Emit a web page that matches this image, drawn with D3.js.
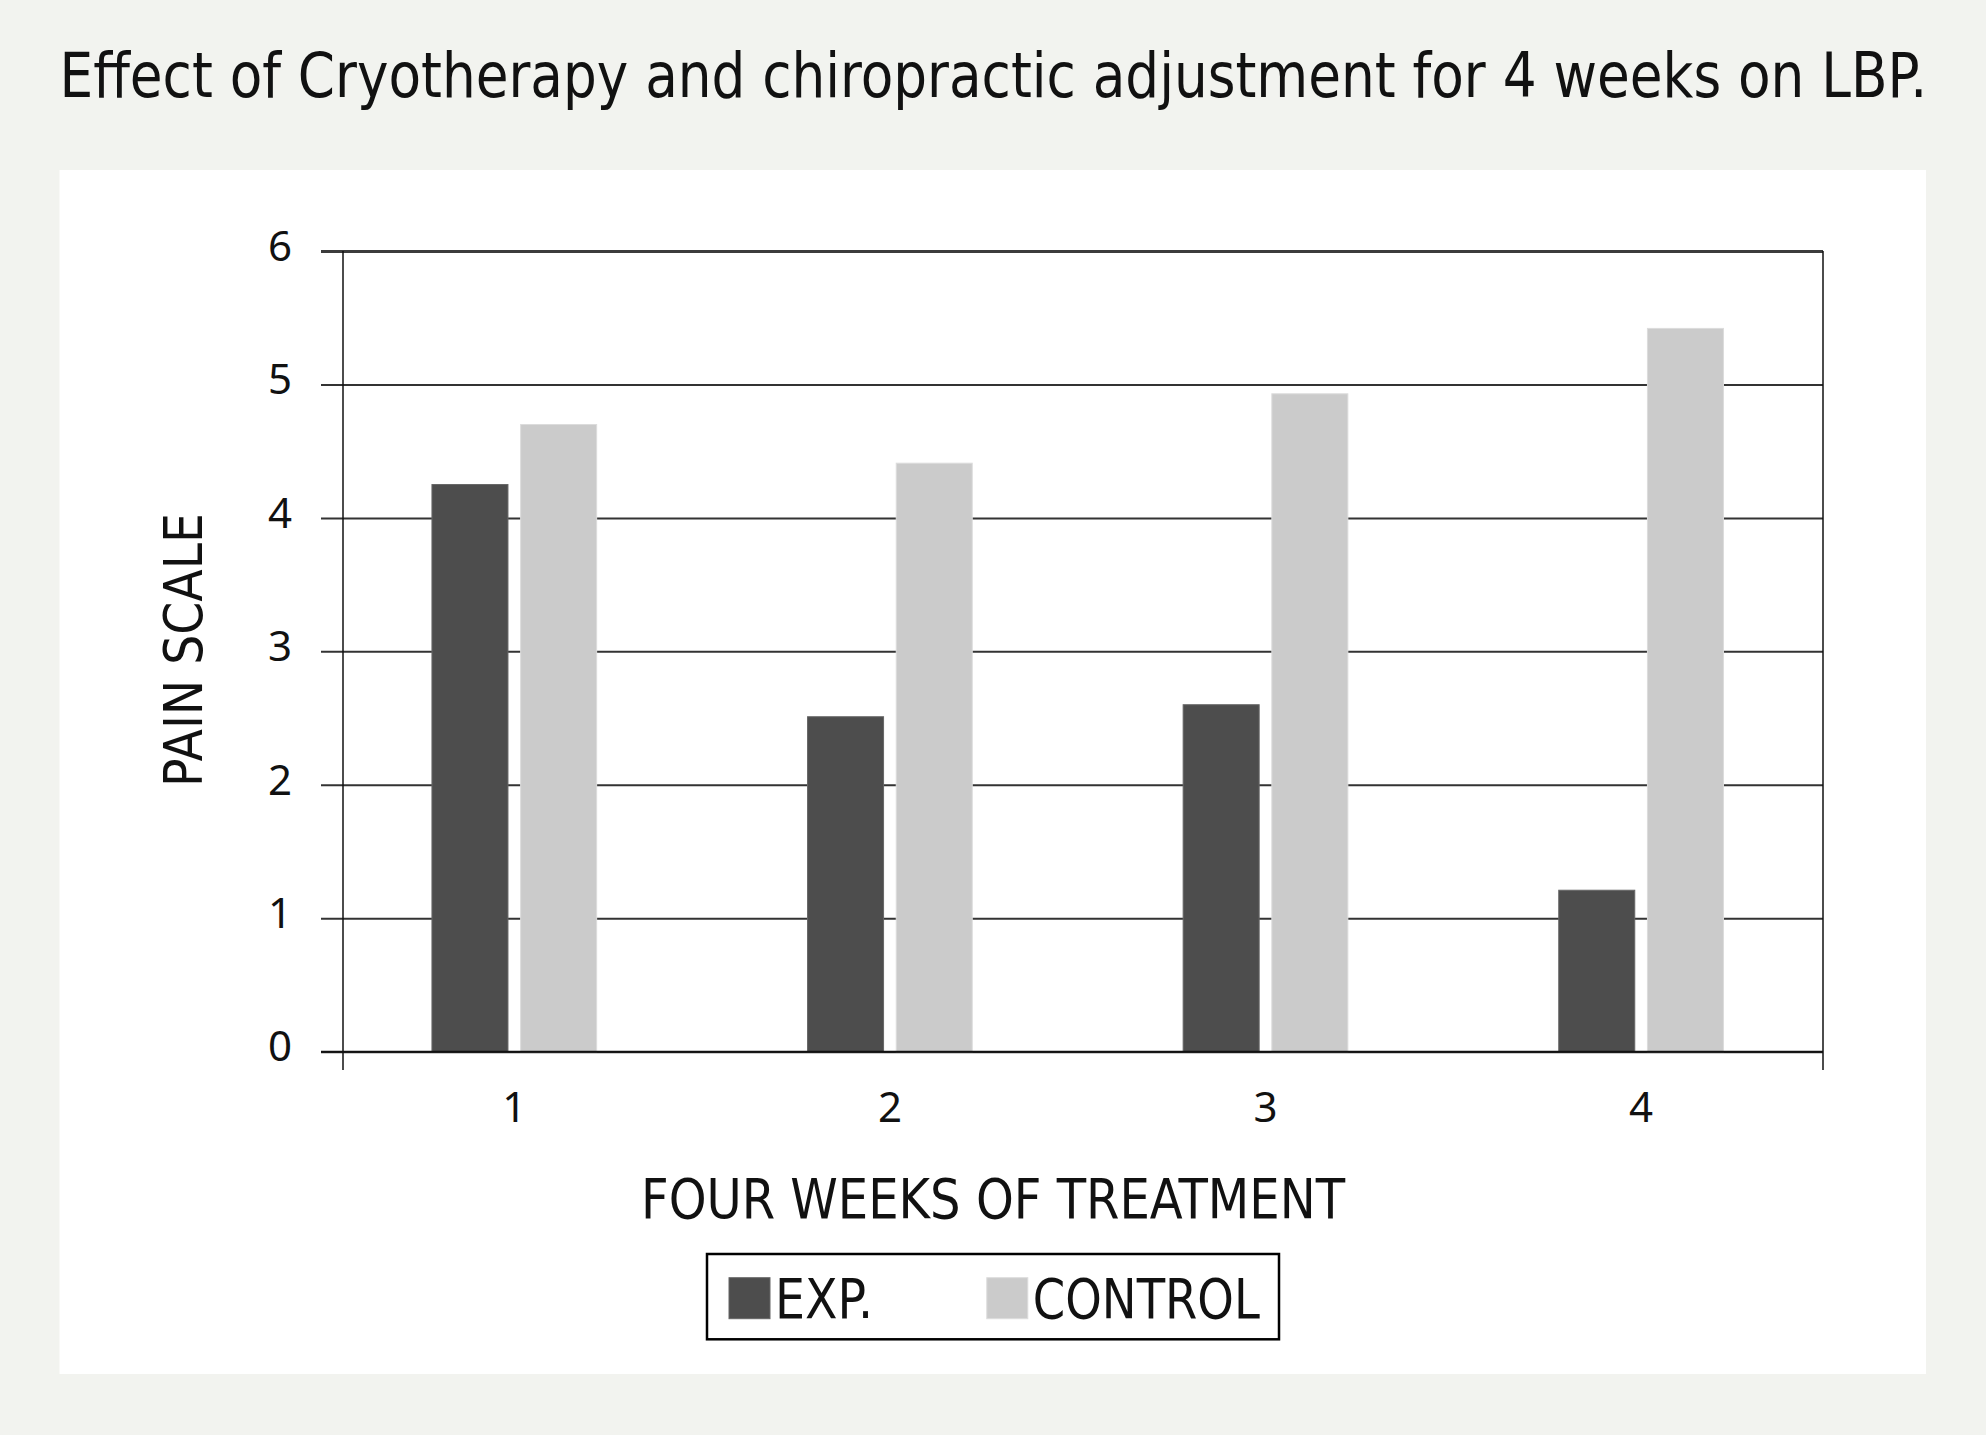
<!DOCTYPE html>
<html>
<head>
<meta charset="utf-8">
<script src="https://cdn.jsdelivr.net/npm/d3@7"></script>
<style>
  body { margin: 0; background: #f2f3ef; }
  svg { display: block; }
</style>
</head>
<body>
<script>
// data
var weeks = ['1', '2', '3', '4'];
var seriesNames = ['EXP.', 'CONTROL'];
var expValues = [4.25, 2.51, 2.6, 1.21];
var controlValues = [4.7, 4.41, 4.93, 5.42];
var yTicks = [0, 1, 2, 3, 4, 5, 6];

var colors = { 'EXP.': '#4d4d4d', 'CONTROL': '#cbcbcb' };
var strokes = { 'EXP.': '#666666', 'CONTROL': '#dcdcdc' };

var rows = weeks.map(function (w, i) {
  return { week: w, values: [
    { key: 'EXP.', value: expValues[i] },
    { key: 'CONTROL', value: controlValues[i] }
  ] };
});

var condensed = "'Liberation Sans Narrow', 'DejaVu Sans Condensed', sans-serif";

var svg = d3.select('body').append('svg').attr('width', 1986).attr('height', 1435);

// white panel
svg.append('rect').attr('x', 59.5).attr('y', 170).attr('width', 1866.5).attr('height', 1204)
  .attr('fill', 'white');

// title, squeezed horizontally to the reference width
var title = svg.append('text').attr('x', 0).attr('y', 0)
  .attr('font-family', condensed)
  .attr('font-size', 62).attr('fill', '#111')
  .text('Effect of Cryotherapy and chiropractic adjustment for 4 weeks on LBP.');
var titleW = title.node().getComputedTextLength();
title.attr('transform', 'translate(59.5,96.7) scale(' + (1868 / titleW) + ',1)');

var plotLeft = 343, plotRight = 1823, plotTop = 251, plotBottom = 1051.7;

var y = d3.scaleLinear().domain([0, 6]).range([plotBottom, plotTop]);
var x0 = d3.scaleBand().domain(weeks).range([326.5, 1828.9]).padding(0);
var x1 = d3.scaleBand().domain(seriesNames)
  .range([x0.bandwidth() / 2 - 82.35, x0.bandwidth() / 2 + 82.35])
  .paddingInner(0.143).paddingOuter(0);

// gridlines + y tick labels
var yAxis = svg.append('g').attr('transform', 'translate(321,0)')
  .call(d3.axisLeft(y).tickValues(yTicks).tickFormat(d3.format('d'))
    .tickSize(-(plotRight - 321)).tickPadding(29));
yAxis.select('.domain').remove();
yAxis.selectAll('.tick line').attr('stroke', '#333').attr('stroke-width', 2);
yAxis.selectAll('.tick line').filter(function (d) { return d === 6; })
  .attr('stroke', '#3c3c3c').attr('stroke-width', 3);
yAxis.selectAll('.tick text')
  .attr('font-family', "'Noto Sans', 'Open Sans', sans-serif")
  .attr('font-size', 42).attr('fill', '#111').attr('dy', '0.22em');

// bars
var groups = svg.append('g').selectAll('g').data(rows).join('g')
  .attr('transform', function (d) { return 'translate(' + x0(d.week) + ',0)'; });
groups.selectAll('rect').data(function (d) { return d.values; }).join('rect')
  .attr('x', function (d) { return x1(d.key); })
  .attr('width', x1.bandwidth())
  .attr('y', function (d) { return y(d.value); })
  .attr('height', function (d) { return y(0) - y(d.value); })
  .attr('fill', function (d) { return colors[d.key]; })
  .attr('stroke', function (d) { return strokes[d.key]; })
  .attr('stroke-width', 1);

// axis lines on top
svg.append('line').attr('x1', 321).attr('x2', plotRight).attr('y1', y(0)).attr('y2', y(0))
  .attr('stroke', '#111').attr('stroke-width', 2);
svg.append('line').attr('x1', plotLeft).attr('x2', plotLeft).attr('y1', plotTop).attr('y2', 1070)
  .attr('stroke', '#111').attr('stroke-width', 1.5);
svg.append('line').attr('x1', plotRight).attr('x2', plotRight).attr('y1', plotTop).attr('y2', 1070)
  .attr('stroke', '#111').attr('stroke-width', 1.5);

// x tick labels
var xAxis = svg.append('g').attr('transform', 'translate(0,' + y(0) + ')')
  .call(d3.axisBottom(x0).tickSize(0));
xAxis.select('.domain').remove();
xAxis.selectAll('.tick text')
  .attr('font-family', "'Noto Sans', 'Open Sans', sans-serif")
  .attr('font-size', 42).attr('fill', '#111').attr('y', 70).attr('dy', 0);

// axis titles
svg.append('text').attr('x', 993).attr('y', 1218).attr('text-anchor', 'middle')
  .attr('font-family', condensed)
  .attr('font-size', 55).attr('fill', '#111')
  .attr('textLength', 704).attr('lengthAdjust', 'spacingAndGlyphs')
  .text('FOUR WEEKS OF TREATMENT');

svg.append('text').attr('transform', 'translate(201.7,650) rotate(-90)')
  .attr('text-anchor', 'middle')
  .attr('font-family', "'DejaVu Sans', sans-serif")
  .attr('font-size', 53).attr('fill', '#111')
  .attr('textLength', 274).attr('lengthAdjust', 'spacingAndGlyphs')
  .text('PAIN SCALE');

// legend
var legend = svg.append('g');
legend.append('rect').attr('x', 707).attr('y', 1254).attr('width', 572).attr('height', 85.3)
  .attr('fill', 'white').attr('stroke', '#000').attr('stroke-width', 2.5);
var legendX = [729, 986.8];
var legendTextLen = [98, 227];
var items = legend.selectAll('g.item').data(seriesNames).join('g').attr('class', 'item')
  .attr('transform', function (d, i) { return 'translate(' + legendX[i] + ',0)'; });
items.append('rect').attr('y', 1277.7).attr('width', 41).attr('height', 41)
  .attr('fill', function (d) { return colors[d]; })
  .attr('stroke', function (d) { return strokes[d]; }).attr('stroke-width', 1);
items.append('text').attr('x', 46).attr('y', 1318)
  .attr('font-family', condensed)
  .attr('font-size', 55).attr('fill', '#111')
  .attr('textLength', function (d, i) { return legendTextLen[i]; })
  .attr('lengthAdjust', 'spacingAndGlyphs')
  .text(function (d) { return d; });
</script>
</body>
</html>
